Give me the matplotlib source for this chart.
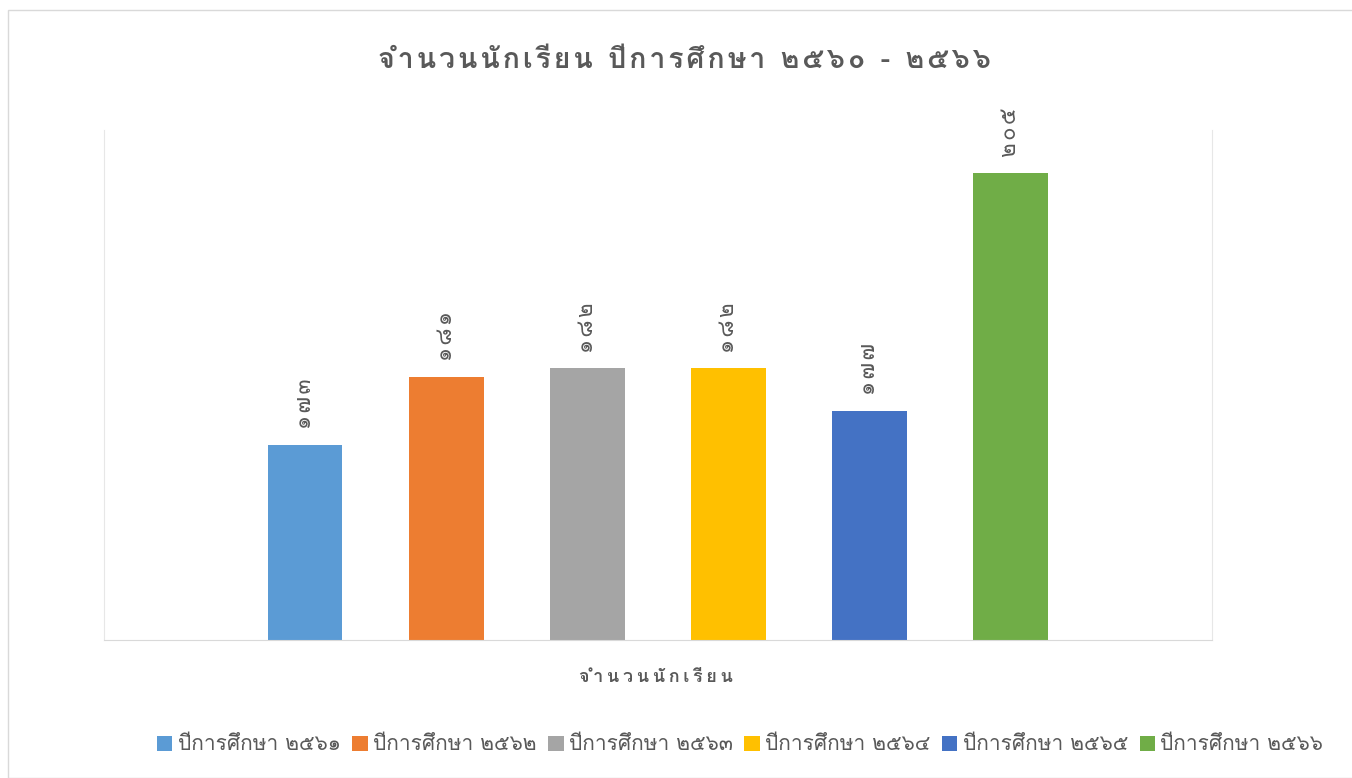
import matplotlib
matplotlib.use("Agg")
import matplotlib.pyplot as plt
from matplotlib.patches import Rectangle, Patch

# ---------------- data ----------------
series_names = ["ปีการศึกษา ๒๕๖๑", "ปีการศึกษา ๒๕๖๒", "ปีการศึกษา ๒๕๖๓",
                "ปีการศึกษา ๒๕๖๔", "ปีการศึกษา ๒๕๖๕", "ปีการศึกษา ๒๕๖๖"]
values = [173, 181, 182, 182, 177, 205]
value_labels = ["๑๗๓", "๑๘๑", "๑๘๒", "๑๘๒", "๑๗๗", "๒๐๕"]
colors = ["#5B9BD5", "#ED7D31", "#A5A5A5", "#FFC000", "#4472C4", "#70AD47"]
title = "จำนวนนักเรียน ปีการศึกษา ๒๕๖๐ - ๒๕๖๖"
category = "จำนวนนักเรียน"

plt.rcParams['font.family'] = ['Loma', 'DejaVu Sans']
TXT = "#595959"

COMBINING = set([0x0E31] + list(range(0x0E34, 0x0E3B)) + list(range(0x0E47, 0x0E4F)))


def spaced(s, sep="\u2009"):
    """Insert a narrow space between grapheme clusters (letter spacing)."""
    clusters = []
    for ch in s:
        if clusters and ord(ch) in COMBINING:
            clusters[-1] += ch
        else:
            clusters.append(ch)
    return sep.join(clusters)


fig = plt.figure(figsize=(13.52, 7.78), dpi=100)
W, H = 1352, 778
fig.patches.append(Rectangle((8 / W, 0), 2, (H - 10) / H, transform=fig.transFigure,
                             fill=False, edgecolor="#D9D9D9", linewidth=1))

left, right, top, bottom = 104, 1212, 130, 640
ax = fig.add_axes([left / W, 1 - bottom / H, (right - left) / W, (bottom - top) / H])
x = list(range(len(values)))
ax.bar(x, values, width=0.53, color=colors, zorder=2)
ax.set_ylim(150, 210)
ax.set_xlim(-1.426, 6.43)
for xi, v, lab in zip(x, values, value_labels):
    ax.annotate(spaced(lab, "\u200a"), (xi, v), xytext=(0, 11), textcoords="offset points",
                rotation=90, ha="center", va="bottom", fontsize=16, color=TXT)
ax.set_yticks([])
ax.set_xticks([])
ax.spines["top"].set_visible(False)
for s in ["left", "right"]:
    ax.spines[s].set_color("#E7E7E7")
ax.spines["bottom"].set_color("#D9D9D9")

fig.text(684 / W, 1 - 60 / H, spaced(title, "\u200a"), ha="center", va="center", fontsize=20.6,
         fontweight="bold", color=TXT)
fig.text(656 / W, 1 - 677 / H, spaced(category), ha="center", va="center", fontsize=13,
         fontweight="bold", color=TXT)

handles = [Patch(facecolor=c, label=n) for c, n in zip(colors, series_names)]
fig.legend(handles=handles, loc="center", bbox_to_anchor=(740 / W, 1 - 745 / H), ncol=6,
           frameon=False, fontsize=15, handlelength=0.75, handleheight=0.75,
           handletextpad=0.25, columnspacing=0.55, labelcolor=TXT)

fig.savefig("out.png", dpi=100)
